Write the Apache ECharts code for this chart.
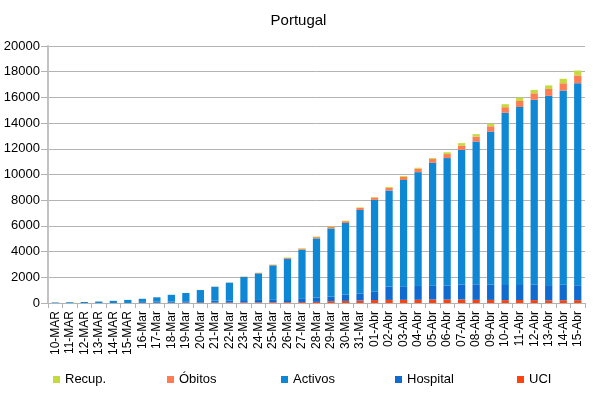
<!DOCTYPE html>
<html>
<head>
<meta charset="utf-8">
<script src="https://cdn.jsdelivr.net/npm/echarts@6/dist/echarts.min.js"></script>
<style>html,body{margin:0;padding:0;background:#fff}#c{width:597px;height:393px}</style>
</head>
<body>
<div id="c"></div>
<script>
var categories = ['10-MAR','11-MAR','12-MAR','13-MAR','14-MAR','15-MAR',
  '16-Mar','17-Mar','18-Mar','19-Mar','20-Mar','21-Mar','22-Mar','23-Mar','24-Mar','25-Mar','26-Mar','27-Mar','28-Mar','29-Mar','30-Mar','31-Mar',
  '01-Abr','02-Abr','03-Abr','04-Abr','05-Abr','06-Abr','07-Abr','08-Abr','09-Abr','10-Abr','11-Abr','12-Abr','13-Abr','14-Abr','15-Abr'];
var uci = [0,0,0,0,0,0,15,17,20,25,30,35,40,47,48,61,61,70,90,138,164,188,230,240,245,251,267,270,271,245,241,226,233,228,210,218,220];
var hospital = [0,0,0,0,0,0,70,90,95,110,120,150,160,180,190,230,170,300,330,350,500,562,650,1042,1058,1075,1084,1099,1180,1211,1173,1179,1175,1187,1180,1208,1160];
var activos = [41,59,78,112,169,243,242,337,522,644,859,1078,1381,1796,2069,2639,3210,3779,4607,5312,5561,6490,7141,7475,8269,8857,9557,9910,10462,11109,11928,13399,13843,14400,14732,15108,15729];
var obitos = [0,0,0,0,0,0,1,1,2,3,6,12,14,23,33,43,60,76,100,119,140,160,187,209,246,266,295,311,345,380,409,435,470,504,535,567,599];
var recup = [0,0,0,0,0,2,3,3,3,3,5,5,5,14,22,22,43,43,43,43,43,43,43,68,68,75,75,140,184,196,205,233,266,266,277,347,383];
var yTicks = [0,2000,4000,6000,8000,10000,12000,14000,16000,18000,20000];

var font = 'Liberation Sans';
var colors = {UCI:'#ff420e', Hospital:'#0f6bd0', Activos:'#0e88d4', 'Óbitos':'#ff7c55', 'Recup.':'#c5da3f'};
function mkSeries(name, data){
  return {name:name, type:'bar', stack:'t', data:data, barWidth:'50%',
    itemStyle:{color:colors[name]}, emphasis:{disabled:true}};
}
function mkLegend(name, left){
  return {data:[name], left:left, top:373, padding:0, itemWidth:7, itemHeight:7, icon:'rect',
    itemGap:0, selectedMode:false,
    textStyle:{fontFamily:font, fontSize:13, color:'#000', padding:[0,0,0,0]}};
}
var chart = echarts.init(document.getElementById('c'), null, {renderer:'canvas'});
chart.setOption({
  animation:false,
  backgroundColor:'#fff',
  title:{text:'Portugal', left:'center', top:8,
    textStyle:{fontFamily:font, fontSize:15, fontWeight:'normal', color:'#000'}},
  legend:[mkLegend('Recup.',53), mkLegend('Óbitos',167), mkLegend('Activos',281), mkLegend('Hospital',395), mkLegend('UCI',517)],
  grid:{left:48, right:12, top:46, bottom:90, containLabel:false},
  xAxis:{type:'category', data:categories,
    axisLine:{lineStyle:{color:'#b3b3b3', width:1}},
    axisTick:{show:true, length:5, lineStyle:{color:'#b3b3b3'}},
    axisLabel:{interval:0, rotate:90, margin:8, fontFamily:font, fontSize:12, color:'#000'}},
  yAxis:{type:'value', min:yTicks[0], max:yTicks[yTicks.length-1], interval:yTicks[1]-yTicks[0],
    axisLine:{show:true, lineStyle:{color:'#c3c3c3', width:2}},
    axisTick:{show:true, length:7, lineStyle:{color:'#b3b3b3'}},
    splitLine:{lineStyle:{color:'#b3b3b3', width:1}},
    axisLabel:{margin:8, fontFamily:font, fontSize:13, color:'#000', formatter:function(v){return String(v);}}},
  series:[mkSeries('UCI',uci), mkSeries('Hospital',hospital), mkSeries('Activos',activos), mkSeries('Óbitos',obitos), mkSeries('Recup.',recup)]
});
</script>
</body>
</html>
